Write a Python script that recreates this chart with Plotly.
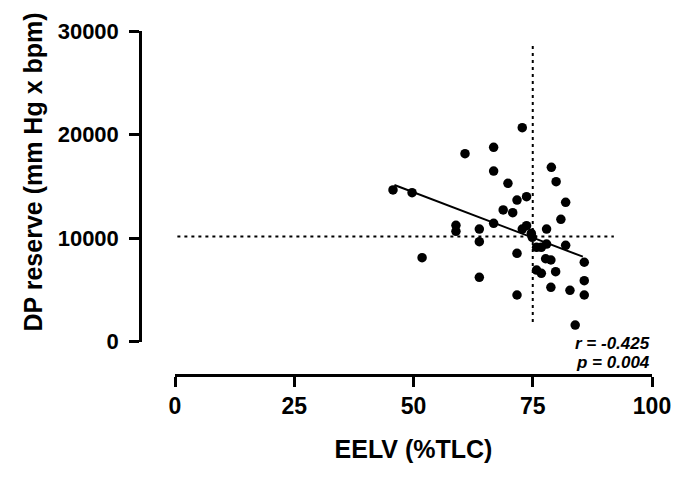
import plotly.graph_objects as go

# ---- data ----
eelv = [45.7, 49.7, 51.8, 60.8, 58.9, 58.9, 63.8, 63.8, 63.8, 66.8,
        66.8, 66.8, 69.8, 68.8, 70.8, 71.7, 73.7, 72.8, 71.7, 71.7,
        72.8, 73.7, 74.7, 74.9, 75.8, 76.8, 77.9, 77.9, 77.7, 78.8,
        75.8, 76.8, 79.8, 78.8, 78.9, 79.9, 81.9, 80.9, 81.9, 82.8,
        83.9, 85.8, 85.8, 85.8]
dp_reserve = [14650, 14390, 8110, 18150, 11240, 10660, 10880, 9660, 6220, 18770,
              16480, 11430, 15290, 12720, 12460, 13680, 14000, 20660, 8530, 4510,
              10880, 11200, 10470, 10080, 9110, 9110, 9430, 10880, 8010, 7890,
              6920, 6600, 6760, 5250, 16840, 15450, 13460, 11820, 9310, 4960,
              1610, 7670, 5890, 4510]

fit_x = [46, 85.5]
fit_y = [15130, 8210]

hline_x = [0.5, 92]
hline_y = [10150, 10150]
vline_x = [75, 75]
vline_y = [1900, 28900]

x_ticks = [0, 25, 50, 75, 100]
y_ticks = [0, 10000, 20000, 30000]

x_title = "EELV (%TLC)"
y_title = "DP reserve (mm Hg x bpm)"
stats_text = ["<i>r = -0.425</i>", "<i>p = 0.004</i>"]

FONT = "Liberation Sans, Arial, sans-serif"

fig = go.Figure()

fig.add_trace(go.Scatter(x=hline_x, y=hline_y, mode="lines",
                         line=dict(color="black", width=2, dash="3px,4px"),
                         showlegend=False, hoverinfo="skip"))
fig.add_trace(go.Scatter(x=vline_x, y=vline_y, mode="lines",
                         line=dict(color="black", width=2, dash="3px,4px"),
                         showlegend=False, hoverinfo="skip"))
fig.add_trace(go.Scatter(x=fit_x, y=fit_y, mode="lines",
                         line=dict(color="black", width=2),
                         showlegend=False))
fig.add_trace(go.Scatter(x=eelv, y=dp_reserve, mode="markers",
                         marker=dict(color="black", size=9.5, symbol="circle"),
                         showlegend=False))

# page body has an 8px default margin; work in screenshot pixels and shift
OFF = 8
W, H = 685 - OFF, 477 - OFF
ml = 140 - OFF
mt = 31 - OFF
plot_right = 652 - OFF
plot_bottom = 375 - OFF
mr = W - plot_right
mb = H - plot_bottom
pw = W - ml - mr
ph = H - mt - mb

def px_to_paper_x(px):
    return (px - OFF - ml) / pw

def py_to_paper_y(py):
    return (plot_bottom - (py - OFF)) / ph

fig.update_layout(
    width=W, height=H,
    margin=dict(l=ml, r=mr, t=mt, b=mb),
    paper_bgcolor="white", plot_bgcolor="white",
    font=dict(family=FONT, color="black"),
    xaxis=dict(
        domain=[px_to_paper_x(175), 1], range=[0, 100],
        anchor="free", position=0,
        showline=True, linecolor="black", linewidth=2.5,
        ticks="outside", ticklen=10, tickwidth=2.5, tickcolor="black",
        tickvals=x_ticks, ticktext=[str(v) for v in x_ticks],
        tickfont=dict(family=FONT, size=23, weight="bold", color="black"),
        showgrid=False, zeroline=False, automargin=False,
        title=dict(text=x_title, standoff=22,
                   font=dict(family=FONT, size=25, weight="bold", color="black")),
    ),
    yaxis=dict(
        domain=[py_to_paper_y(341.7), 1], range=[0, 30000],
        anchor="free", position=0,
        showline=True, linecolor="black", linewidth=2.5,
        ticks="outside", ticklen=10, tickwidth=2.5, tickcolor="black",
        ticklabelstandoff=6,
        tickvals=y_ticks, ticktext=[str(v) for v in y_ticks],
        tickfont=dict(family=FONT, size=22, weight="bold", color="black"),
        showgrid=False, zeroline=False, automargin=False,
    ),
)

fig.add_annotation(text=y_title, xref="paper", yref="paper",
                   x=px_to_paper_x(33), y=py_to_paper_y(172.5),
                   xanchor="center", yanchor="middle", textangle=-90,
                   showarrow=False,
                   font=dict(family=FONT, size=25, weight="bold", color="black"))

for txt, py in zip(stats_text, [343.3, 362.7]):
    fig.add_annotation(text=txt, xref="paper", yref="paper",
                       x=1.0, y=py_to_paper_y(py), xanchor="right", yanchor="middle",
                       showarrow=False,
                       font=dict(family=FONT, size=17, weight="bold", color="black"))

fig.write_html("out.html")
